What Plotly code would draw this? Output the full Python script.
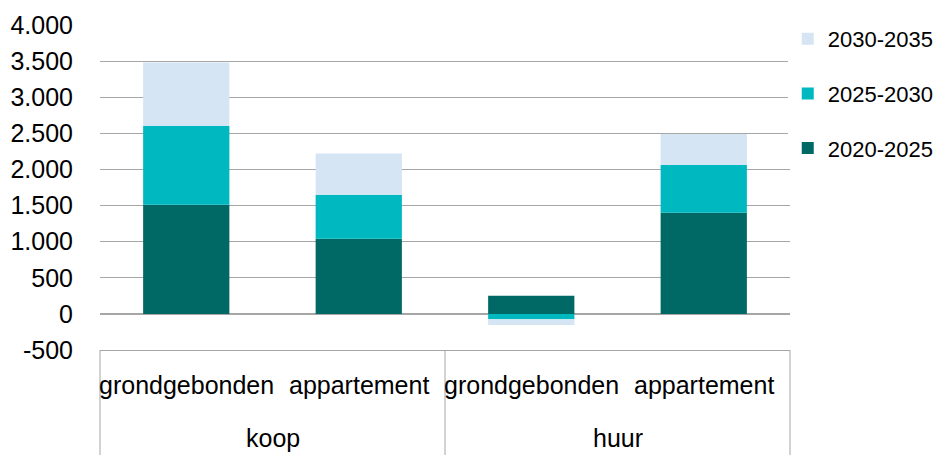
import plotly.graph_objects as go

tenure = ["koop", "koop", "huur", "huur"]
housing = ["grondgebonden", "appartement", "grondgebonden", "appartement"]
groups = ["koop", "huur"]

series_names = ["2020-2025", "2025-2030", "2030-2035"]
v_2020_2025 = [1510, 1040, 250, 1400]
v_2025_2030 = [1090, 610, -75, 660]
v_2030_2035 = [880, 570, -80, 430]
colors = ["#006966", "#00B8C0", "#D6E5F3"]

y_ticks = [-500, 0, 500, 1000, 1500, 2000, 2500, 3000, 3500, 4000]
y_labels = ["-500", "0", "500", "1.000", "1.500", "2.000", "2.500", "3.000", "3.500", "4.000"]

FONT = "Liberation Sans, Arial, sans-serif"
FS = 25
GRID = "#A6A6A6"

fig = go.Figure()
for k, (name, vals, col) in enumerate(zip(series_names, [v_2020_2025, v_2025_2030, v_2030_2035], colors)):
    fig.add_trace(go.Bar(
        x=[tenure, housing], y=vals, name=name, marker_color=col,
        marker_line_width=0, legendgroup=name, legendrank=len(series_names) - k,
    ))

n = len(housing)
for i, lab in enumerate(housing):
    fig.add_annotation(x=(i + 0.5) / n, y=-0.108, xref="paper", yref="paper",
                       text=lab, showarrow=False, font=dict(size=FS, family=FONT),
                       xanchor="center", yanchor="middle")
for g, lab in enumerate(groups):
    fig.add_annotation(x=(g + 0.5) / len(groups), y=-0.272, xref="paper", yref="paper",
                       text=lab, showarrow=False, font=dict(size=FS, family=FONT),
                       xanchor="center", yanchor="middle")
for g in range(len(groups) + 1):
    xp = g / len(groups)
    fig.add_shape(type="line", xref="paper", yref="paper", x0=xp, x1=xp, y0=0, y1=-0.36,
                  line=dict(color=GRID, width=1))

fig.update_layout(
    width=944, height=455,
    margin=dict(l=92, r=162, t=17, b=113, autoexpand=False),
    barmode="relative", bargap=0.5,
    plot_bgcolor="white", paper_bgcolor="white",
    font=dict(family=FONT, size=FS, color="#000000"),
    showlegend=True,
    legend=dict(xref="container", yref="container", x=0.826, y=0.978,
                xanchor="left", yanchor="top",
                traceorder="grouped", tracegroupgap=23,
                font=dict(size=22), itemwidth=30),
    yaxis=dict(range=[-500, 4000], tickvals=y_ticks, ticktext=y_labels,
               showgrid=True, gridcolor=GRID, gridwidth=1,
               zeroline=True, zerolinecolor=GRID, zerolinewidth=1.5,
               showline=False, ticks="", ticklabelstandoff=26, automargin=False),
    xaxis=dict(type="multicategory", showgrid=False, showline=True, linecolor=GRID,
               linewidth=1, ticks="", showticklabels=False, showdividers=False,
               automargin=False),
)

fig.write_html("out.html")
